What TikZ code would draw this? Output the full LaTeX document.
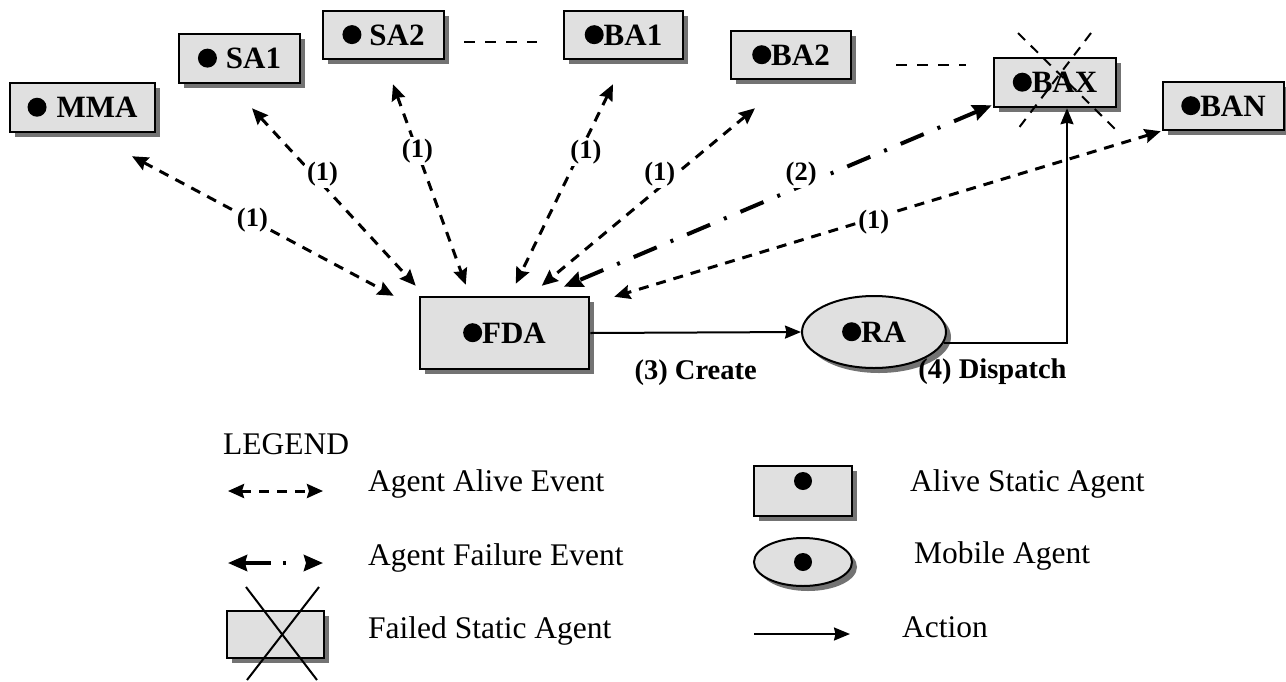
\documentclass[tikz,border=0pt]{standalone}
\usepackage{fontspec}
\setmainfont{Liberation Serif}
\usetikzlibrary{arrows.meta,shadows,shapes.geometric}

% black bullet used inside the agent boxes
\newcommand\blob{\tikz[baseline={(0pt,-10.5pt)}]\fill[black] (0pt,0pt) circle[radius=9.5pt];}

\tikzset{
  boxfont/.style={font=\fontsize{31}{36}\selectfont\bfseries},
  shade/.style={drop shadow={shadow xshift=5pt,shadow yshift=-5pt,fill=black!55,opacity=1}},
  agentbox/.style={draw=black, line width=2.5pt, fill=black!12, inner sep=0pt, boxfont, shade},
  mobile/.style={ellipse, draw=black, line width=2pt, fill=black!12, inner sep=0pt, boxfont, shade},
  evlabel/.style={font=\fontsize{26.5}{30}\selectfont\bfseries, fill=white, inner sep=2pt},
  actlabel/.style={font=\fontsize{28.5}{32}\selectfont\bfseries, inner sep=0pt},
  tip/.style={Stealth[length=#1, width=0.85*#1, inset=1.5pt]},
  alive/.style={line width=3pt, dash pattern=on 10pt off 8pt,
    {Stealth[length=16pt,width=14pt,inset=2pt]}-{Stealth[length=16pt,width=14pt,inset=2pt]}},
  failure/.style={line width=4pt, dash pattern=on 25pt off 15pt on 3pt off 15pt,
    {Stealth[length=19pt,width=16pt,inset=2pt]}-{Stealth[length=19pt,width=16pt,inset=2pt]}},
  action/.style={line width=2pt, -{Stealth[length=16pt,width=13pt,inset=1.5pt]}},
  gapline/.style={line width=2.5pt, dash pattern=on 11pt off 10pt},
  crossout/.style={line width=2pt, dash pattern=on 10pt off 8pt},
  legtext/.style={font=\fontsize{31.5}{36}\selectfont, anchor=base west, inner sep=0pt},
}

\begin{document}
\begin{tikzpicture}[x=1pt,y=-1pt]
\fill[white] (0,0) rectangle (1286,681);
\useasboundingbox (0,0) rectangle (1286,681);

% static agents
\node[agentbox, minimum width=145pt, minimum height=49pt] (mma) at (82.5,107.5) {\blob\hspace{10pt}MMA};
\node[agentbox, minimum width=121pt, minimum height=49pt] (sa1) at (239.5,58.5) {\blob\hspace{9pt}SA1};
\node[agentbox, minimum width=121pt, minimum height=48pt] (sa2) at (383.5,35) {\blob\hspace{8pt}SA2};
\node[agentbox, minimum width=119pt, minimum height=48pt] (ba1) at (623.5,35) {\blob BA1};
\node[agentbox, minimum width=120pt, minimum height=48pt] (ba2) at (791,55) {\blob BA2};
\node[agentbox, minimum width=122pt, minimum height=49pt] (bax) at (1055,82.5) {\blob BAX};
\node[agentbox, minimum width=121pt, minimum height=48pt] (ban) at (1223.5,106) {\blob BAN};
\node[agentbox, minimum width=169pt, minimum height=72pt] (fda) at (504.5,333) {\blob FDA};
% mobile agent
\node[mobile, minimum width=144pt, minimum height=72pt] (ra) at (874,332) {\blob RA};

% omitted agents
\draw[gapline] ([shift={(19,7)}]sa2.east) -- ([shift={(-26,7)}]ba1.west);
\draw[gapline] ([shift={(44,10)}]ba2.east) -- ([shift={(-27,-17.5)}]bax.west);

% BAX has failed
\draw[crossout] ([shift={(-37,-49.5)}]bax.center) -- ([shift={(60,46.5)}]bax.center);
\draw[crossout] ([shift={(36,-49.5)}]bax.center) -- ([shift={(-37,46.5)}]bax.center);

% alive / failure events
\draw[alive] ([shift={(49.5,23)}]mma.south) -- node[evlabel,pos=0.46]{(1)} ([shift={(-25,0)}]fda.north west);
\draw[alive] ([shift={(12.5,24)}]sa1.south) -- node[evlabel,pos=0.40,xshift=5pt,yshift=5pt]{(1)} ([shift={(-3,-10)}]fda.north west);
\draw[alive] ([shift={(9.5,24)}]sa2.south) -- node[evlabel,pos=0.335]{(1)} ([shift={(47,-11)}]fda.north west);
\draw[alive] ([shift={(-10.5,24)}]ba1.south) -- node[evlabel,pos=0.34,xshift=6pt]{(1)} ([shift={(97,-12)}]fda.north west);
\draw[alive] ([shift={(-36,28)}]ba2.south) -- node[evlabel,pos=0.414,xshift=-7pt,yshift=8pt]{(1)} ([shift={(123,-10)}]fda.north west);
\draw[failure] ([shift={(-1,-3)}]bax.south west) -- node[evlabel,pos=0.436,xshift=-4pt,yshift=10pt]{(2)} ([shift={(145,-9)}]fda.north west);
\draw[alive] ([shift={(-1,0)}]ban.south west) -- node[evlabel,pos=0.525,yshift=-4pt]{(1)} ([shift={(24,1)}]fda.north east);

% actions
\draw[action] (fda.east) -- node[actlabel,pos=0.5,yshift=-40pt]{(3) Create} (ra.west);
\draw[action] ([shift={(-3,11)}]ra.east) -| node[actlabel,pos=0.25,xshift=-13pt,yshift=-29pt]{(4) Dispatch} ([xshift=12pt]bax.south);

% legend
\node[legtext] (legend) at (223,454) {LEGEND};

\coordinate (la1) at (228,491);
\coordinate (la2) at (323,491);
\draw[alive] (la1) -- (la2);
\node[legtext] (lt1) at (368,491) {Agent Alive Event};

\coordinate (lf1) at (228,563);
\coordinate (lf2) at (323,563);
\draw[failure, dash pattern=on 27pt off 12pt on 3pt off 30pt] (lf1) -- (lf2);
\node[legtext] (lt2) at (368,565) {Agent Failure Event};

\node[agentbox, minimum width=97pt, minimum height=47pt] (lfail) at (275.5,634.5) {};
\draw[line width=2pt] ([shift={(-29.5,-47.5)}]lfail.center) -- ([shift={(41.5,45.5)}]lfail.center);
\draw[line width=2pt] ([shift={(43.5,-47.5)}]lfail.center) -- ([shift={(-28.5,45.5)}]lfail.center);
\node[legtext] (lt3) at (368,638) {Failed Static Agent};

\node[agentbox, minimum width=98pt, minimum height=50pt] (lalive) at (803,491) {};
\fill[black] ([yshift=10pt]lalive.center) circle[radius=9pt];
\node[legtext] (lt4) at (910,491) {Alive Static Agent};

\node[mobile, minimum width=98pt, minimum height=48pt] (lmobile) at (803,562) {};
\fill[black] (lmobile.center) circle[radius=9pt];
\node[legtext] (lt5) at (914,563) {Mobile Agent};

\coordinate (lact1) at (754,634);
\coordinate (lact2) at (850,634);
\draw[action] (lact1) -- (lact2);
\node[legtext] (lt6) at (902,637) {Action};
\end{tikzpicture}
\end{document}
